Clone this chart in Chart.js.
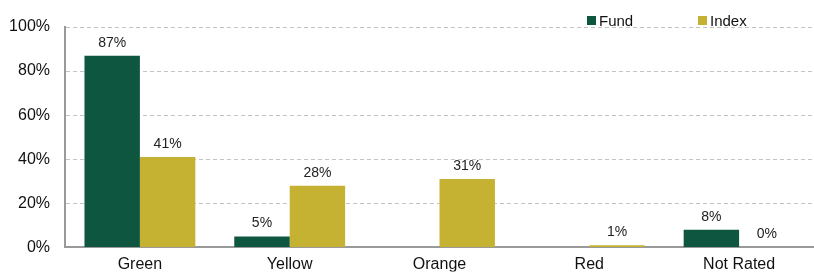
<!DOCTYPE html>
<html>
<head>
<meta charset="utf-8">
<script src="https://cdn.jsdelivr.net/npm/chart.js@4"></script>
<style>
  html, body { margin: 0; padding: 0; background: #fff; }
  #wrap { width: 814px; height: 272px; }
</style>
</head>
<body>
<div id="wrap"><canvas id="ratingChart" width="814" height="272"></canvas></div>
<script>
// Data for the chart
const categories = ["Green", "Yellow", "Orange", "Red", "Not Rated"];
const fundValues = [87, 5, null, null, 8];
const indexValues = [41, 28, 31, 1, 0];
const yTicks = [0, 20, 40, 60, 80, 100];

const fundColor = "#0F5640";
const indexColor = "#C5B232";
const fontFamily = "'Liberation Sans', Arial, sans-serif";

// labels above bars + legend in the top right corner
const labelPlugin = {
  id: "labelPlugin",
  afterDatasetsDraw(chart) {
    const ctx = chart.ctx;
    ctx.save();
    ctx.font = "14px " + fontFamily;
    ctx.fillStyle = "#222";
    ctx.textAlign = "center";
    ctx.textBaseline = "alphabetic";
    chart.data.datasets.forEach((ds, i) => {
      chart.getDatasetMeta(i).data.forEach((bar, j) => {
        const v = ds.data[j];
        if (v === null) return;
        ctx.fillText(v + "%", bar.x, bar.y - 9);
      });
    });

    // legend
    const items = [["Fund", fundColor, 587], ["Index", indexColor, 698]];
    ctx.textAlign = "left";
    ctx.font = "15px " + fontFamily;
    items.forEach(([name, col, x]) => {
      ctx.fillStyle = col;
      ctx.fillRect(x, 16, 9, 9);
      ctx.fillStyle = "#111";
      ctx.fillText(name, x + 12, 26);
    });
    ctx.restore();
  }
};

const config = {
  type: "bar",
  data: {
    labels: categories,
    datasets: [
      { label: "Fund", data: fundValues, backgroundColor: fundColor },
      { label: "Index", data: indexValues, backgroundColor: indexColor }
    ]
  },
  options: {
    responsive: false,
    animation: false,
    layout: { padding: { top: 27, right: 0, left: 0, bottom: 0 } },
    plugins: { legend: { display: false }, tooltip: { enabled: false } },
    datasets: { bar: { categoryPercentage: 0.74, barPercentage: 1.0 } },
    scales: {
      x: {
        grid: { display: false, drawTicks: false },
        border: { color: "#999", width: 2 },
        ticks: { color: "#111", font: { family: fontFamily, size: 16 }, padding: 8, maxRotation: 0 },
        afterFit(s) { s.height = 24; }
      },
      y: {
        min: 0,
        max: 100,
        afterBuildTicks(s) { s.ticks = yTicks.map(v => ({ value: v })); },
        grid: { color: "#c4c4c4", lineWidth: 1, drawTicks: false },
        border: { color: "#999", width: 2, dash: [4, 3] },
        ticks: {
          color: "#111",
          font: { family: fontFamily, size: 16 },
          padding: 15,
          callback: v => v + "%"
        },
        afterFit(s) { s.width = 65; }
      }
    }
  },
  plugins: [labelPlugin]
};

const ratingChart = new Chart(document.getElementById("ratingChart"), config);
</script>
</body>
</html>
